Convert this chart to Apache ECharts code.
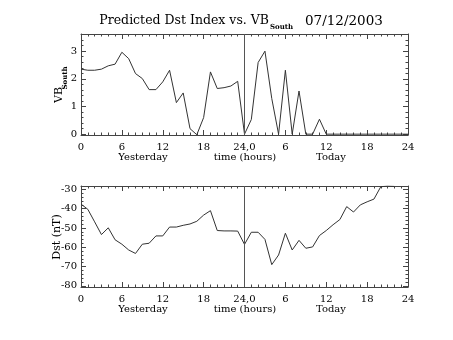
<!DOCTYPE html>
<html><head><meta charset="utf-8">
<script src="https://cdn.jsdelivr.net/npm/echarts@6/dist/echarts.min.js"></script>
<style>html,body{margin:0;padding:0;background:#fff}#c{width:453px;height:340px}</style>
</head><body><div id="c"></div>
<script>
// hours since start of "yesterday"
const vbHours = Array.from({length: 49}, (_, i) => i);
const vbSouth = [2.35,2.31,2.31,2.35,2.47,2.53,2.96,2.73,2.19,2.01,1.61,1.61,1.89,2.31,1.14,1.49,0.2,-0.02,0.6,2.25,1.65,1.68,1.74,1.91,
  0,0.53,2.59,3.0,1.29,0,2.31,0,1.56,0,0,0.54,0,0,0,0,0,0,0,0,0,0,0,0,0];
const dstHours = Array.from({length: 47}, (_, i) => i);
const dst = [-37.6,-40.3,-46.8,-53.4,-49.9,-56.1,-58.4,-61.4,-63.2,-58.4,-57.9,-54.1,-54.1,-49.5,-49.5,-48.6,-47.9,-46.5,-43.3,-41.0,-51.3,-51.5,-51.5,-51.6,
  -58.5,-52.2,-52.2,-55.9,-69.0,-64.0,-52.7,-61.4,-56.4,-60.5,-59.8,-53.9,-51.3,-48.3,-45.6,-38.9,-41.7,-38.0,-36.4,-35.0,-28.6,-28.2,-28.4];
const xTicks = [0,6,12,18,24,30,36,42,48];
const xTickLabels = ['0','6','12','18','24,0','6','12','18','24'];
const vbTicks = [0,1,2,3];
const dstTicks = [-80,-70,-60,-50,-40,-30];

const FONT = 'DejaVu Serif';
const AX = '#444';
function range(a,b,s){const r=[];for(let v=a;v<=b+1e-9;v+=s)r.push(+v.toFixed(4));return r;}
const xMinor = range(0,48,1);
const vbMinor = range(0,3.6,0.2);
const dstMinor = range(-80,-28,2);

function xAxes(gi, showLabels){
  const base = {type:'value', gridIndex:gi, min:0, max:48, splitLine:{show:false}};
  return [
    Object.assign({}, base, {position:'bottom', axisLine:{onZero:false,lineStyle:{color:AX,width:1}},
      axisTick:{inside:true,length:5,customValues:xTicks,lineStyle:{color:AX}},
      axisLabel:{show:showLabels,customValues:xTicks,margin:7,color:'#000',fontFamily:FONT,fontSize:10,
        formatter:(v)=>xTickLabels[xTicks.indexOf(v)]}}),
    Object.assign({}, base, {position:'bottom', axisLine:{show:false,onZero:false},
      axisTick:{inside:true,length:2.5,customValues:xMinor,lineStyle:{color:AX}}, axisLabel:{show:false}}),
    Object.assign({}, base, {position:'top', axisLine:{onZero:false,lineStyle:{color:AX,width:1}},
      axisTick:{inside:true,length:5,customValues:xTicks,lineStyle:{color:AX}}, axisLabel:{show:false}}),
    Object.assign({}, base, {position:'top', axisLine:{show:false,onZero:false},
      axisTick:{inside:true,length:2.5,customValues:xMinor,lineStyle:{color:AX}}, axisLabel:{show:false}})
  ];
}
function yAxes(gi, min, max, major, minor){
  const base = {type:'value', gridIndex:gi, min:min, max:max, splitLine:{show:false}};
  return [
    Object.assign({}, base, {position:'left', axisLine:{show:true,onZero:false,lineStyle:{color:AX,width:1}},
      axisTick:{show:true,inside:true,length:5,customValues:major,lineStyle:{color:AX}},
      axisLabel:{customValues:major,margin:4,color:'#000',fontFamily:FONT,fontSize:10}}),
    Object.assign({}, base, {position:'left', axisLine:{show:false,onZero:false},
      axisTick:{show:true,inside:true,length:2.5,customValues:minor,lineStyle:{color:AX}}, axisLabel:{show:false}}),
    Object.assign({}, base, {position:'right', axisLine:{show:true,onZero:false,lineStyle:{color:AX,width:1}},
      axisTick:{show:true,inside:true,length:5,customValues:major,lineStyle:{color:AX}}, axisLabel:{show:false}}),
    Object.assign({}, base, {position:'right', axisLine:{show:false,onZero:false},
      axisTick:{show:true,inside:true,length:2.5,customValues:minor,lineStyle:{color:AX}}, axisLabel:{show:false}})
  ];
}

const chart = echarts.init(document.getElementById('c'), null, {renderer:'canvas'});
const txt = (x,y,t,opt) => Object.assign({type:'text', x:x, y:y, style:Object.assign({text:t, fill:'#000', font:'10px '+FONT, align:'center', verticalAlign:'middle'}, opt||{})});
chart.setOption({
  animation:false,
  backgroundColor:'#fff',
  grid:[
    {left:81, top:34, width:327, height:101},
    {left:81, top:186, width:327, height:101}
  ],
  xAxis:[].concat(xAxes(0,true), xAxes(1,true)),
  yAxis:[].concat(yAxes(0,-0.03,3.62,vbTicks,vbMinor), yAxes(1,-80.6,-28.2,dstTicks,dstMinor)),
  series:[
    {type:'line', xAxisIndex:0, yAxisIndex:0, data:vbHours.map((h,i)=>[h,vbSouth[i]]), showSymbol:false,
      lineStyle:{color:'#333',width:1}, clip:true,
      markLine:{silent:true,symbol:'none',label:{show:false},lineStyle:{color:'#555',width:1,type:'solid'},data:[{xAxis:24}]}},
    {type:'line', xAxisIndex:4, yAxisIndex:4, data:dstHours.map((h,i)=>[h,dst[i]]), showSymbol:false,
      lineStyle:{color:'#333',width:1}, clip:true,
      markLine:{silent:true,symbol:'none',label:{show:false},lineStyle:{color:'#555',width:1,type:'solid'},data:[{xAxis:24}]}}
  ],
  graphic:[
    txt(269,21,'Predicted Dst Index vs. VB',{font:'12.5px '+FONT, align:'right'}),
    txt(270,27,'South',{font:'bold 7px '+FONT, align:'left'}),
    txt(305,21,'07/12/2003',{font:'13.5px '+FONT, align:'left'}),
    txt(143,157,'Yesterday'),
    txt(245,157,'time (hours)'),
    txt(331,157,'Today'),
    txt(143,309,'Yesterday'),
    txt(245,309,'time (hours)'),
    txt(331,309,'Today'),
    Object.assign(txt(59,95,'VB',{font:'11px '+FONT}),{rotation:Math.PI/2}),
    Object.assign(txt(65,78,'South',{font:'bold 7px '+FONT}),{rotation:Math.PI/2}),
    Object.assign(txt(57,237,'Dst (nT)',{font:'11px '+FONT}),{rotation:Math.PI/2})
  ]
});
</script></body></html>
